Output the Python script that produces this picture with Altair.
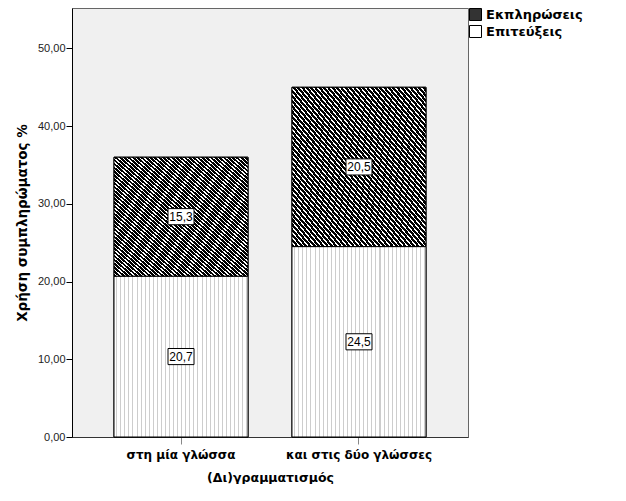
import altair as alt
import pandas as pd

groups = ["στη μία γλώσσα", "και στις δύο γλώσσες"]
series = ["Εκπληρώσεις", "Επιτεύξεις"]
fulfilment = [15.3, 20.5]   # top segment
achievement = [20.7, 24.5]  # bottom segment

rows = []
for g, a, f in zip(groups, achievement, fulfilment):
    rows.append({"group": g, "series": "Επιτεύξεις", "value": a, "ord": 0})
    rows.append({"group": g, "series": "Εκπληρώσεις", "value": f, "ord": 1})
df = pd.DataFrame(rows)

FONT = "Liberation Sans"
BOLD = "DejaVu Sans"

# diagonal hatch pattern as a hard-stop gradient
N_H = 62
hatch_stops = []
for i in range(N_H):
    a = i / N_H
    b = (i + 0.66) / N_H
    c = (i + 1) / N_H
    hatch_stops += [
        {"offset": a, "color": "#000000"},
        {"offset": b, "color": "#000000"},
        {"offset": b, "color": "#ffffff"},
        {"offset": c, "color": "#ffffff"},
    ]
hatch = {"gradient": "linear", "x1": 0, "y1": 1, "x2": 1, "y2": 0, "stops": hatch_stops}

# dotted pattern approximated by thin vertical grey stripes
N_D = 33
dot_stops = []
for i in range(N_D):
    a = i / N_D
    b = (i + 0.55) / N_D
    c = (i + 0.8) / N_D
    d = (i + 1) / N_D
    dot_stops += [
        {"offset": a, "color": "#ffffff"},
        {"offset": b, "color": "#ffffff"},
        {"offset": b, "color": "#cdcdcd"},
        {"offset": c, "color": "#cdcdcd"},
        {"offset": c, "color": "#ffffff"},
        {"offset": d, "color": "#ffffff"},
    ]
dots = {"gradient": "linear", "x1": 0, "y1": 0, "x2": 1, "y2": 0, "stops": dot_stops}

yscale = alt.Scale(domain=[0, 55.2], nice=False, zero=True)
xenc = alt.X(
    "group:N",
    sort=groups,
    scale=alt.Scale(paddingInner=0.247, paddingOuter=0.236),
    axis=alt.Axis(
        title="(Δι)γραμματισμός",
        labelAngle=0,
        labelFontWeight="bold",
        labelFontSize=12,
        labelColor="#000000",
        labelPadding=5,
        titleFontSize=12.5,
        titleFontWeight="bold",
        titleColor="#000000",
        titlePadding=11,
        tickColor="#888888",
        tickSize=7,
        domainColor="#333333",
        labelFont=BOLD,
        titleFont=BOLD,
    ),
)

yaxis = alt.Axis(
    title="Χρήση συμπληρώματος %",
    values=[0, 10, 20, 30, 40, 50],
    labelExpr="replace(format(datum.value, '.2f'), '.', ',')",
    labelFontSize=11,
    labelColor="#222222",
    labelPadding=1,
    tickSize=6,
    tickColor="#000000",
    domainColor="#000000",
    grid=False,
    titleFontSize=13.5,
    titleFontWeight="bold",
    titleColor="#000000",
    titlePadding=8,
    labelFont=FONT,
    titleFont=BOLD,
)

base = alt.Chart(df)

legend_bars = base.mark_bar(stroke="black", strokeWidth=1).encode(
    x=xenc,
    y=alt.Y("value:Q", stack="zero", scale=yscale, axis=yaxis),
    color=alt.Color(
        "series:N",
        scale=alt.Scale(domain=series, range=["#333333", "#ffffff"]),
        legend=alt.Legend(
            title=None,
            orient="right",
            offset=1,
            padding=0,
            symbolType="square",
            symbolSize=144,
            symbolStrokeColor="#000000",
            symbolStrokeWidth=1,
            symbolOpacity=1,
            labelFontSize=13,
            labelFont=BOLD,
            labelFontWeight="bold",
            labelColor="#000000",
            labelOffset=4,
            rowPadding=0,
        ),
    ),
    order=alt.Order("ord:Q"),
)

pattern_bars = base.mark_bar(stroke="black", strokeWidth=1).encode(
    x=xenc,
    y=alt.Y("value:Q", stack="zero", scale=yscale),
    detail="series:N",
    order=alt.Order("ord:Q"),
    fill=alt.condition(alt.datum.series == "Εκπληρώσεις", alt.value(hatch), alt.value(dots)),
)

lab_base = base.transform_stack(
    stack="value",
    groupby=["group"],
    as_=["y0", "y1"],
    sort=[alt.SortField("ord", order="ascending")],
).transform_calculate(
    mid="(datum.y0 + datum.y1) / 2",
    lab="replace(format(datum.value, '.1f'), '.', ',')",
)

box_shape = "M-1,-0.62L1,-0.62L1,0.62L-1,0.62Z"
boxes = lab_base.mark_point(
    shape=box_shape,
    size=676,
    filled=True,
    fill="#ffffff",
    stroke="#000000",
    strokeWidth=1,
    opacity=1,
).encode(
    x=alt.X("group:N", sort=groups),
    y=alt.Y("mid:Q", scale=yscale),
)

texts = lab_base.mark_text(
    fontSize=12, font=FONT, color="#000000", baseline="middle", align="center"
).encode(
    x=alt.X("group:N", sort=groups),
    y=alt.Y("mid:Q", scale=yscale),
    text="lab:N",
)

chart = (
    alt.layer(legend_bars, pattern_bars, boxes, texts)
    .properties(
        width=396,
        height=429,
        padding={"left": 7, "top": 0, "right": 0, "bottom": 0},
        background="#ffffff",
    )
    .configure_view(fill="#f0f0f0", stroke="#666666", strokeWidth=1)
)

chart.save("out.html", embed_options={"renderer": "svg", "actions": False})
